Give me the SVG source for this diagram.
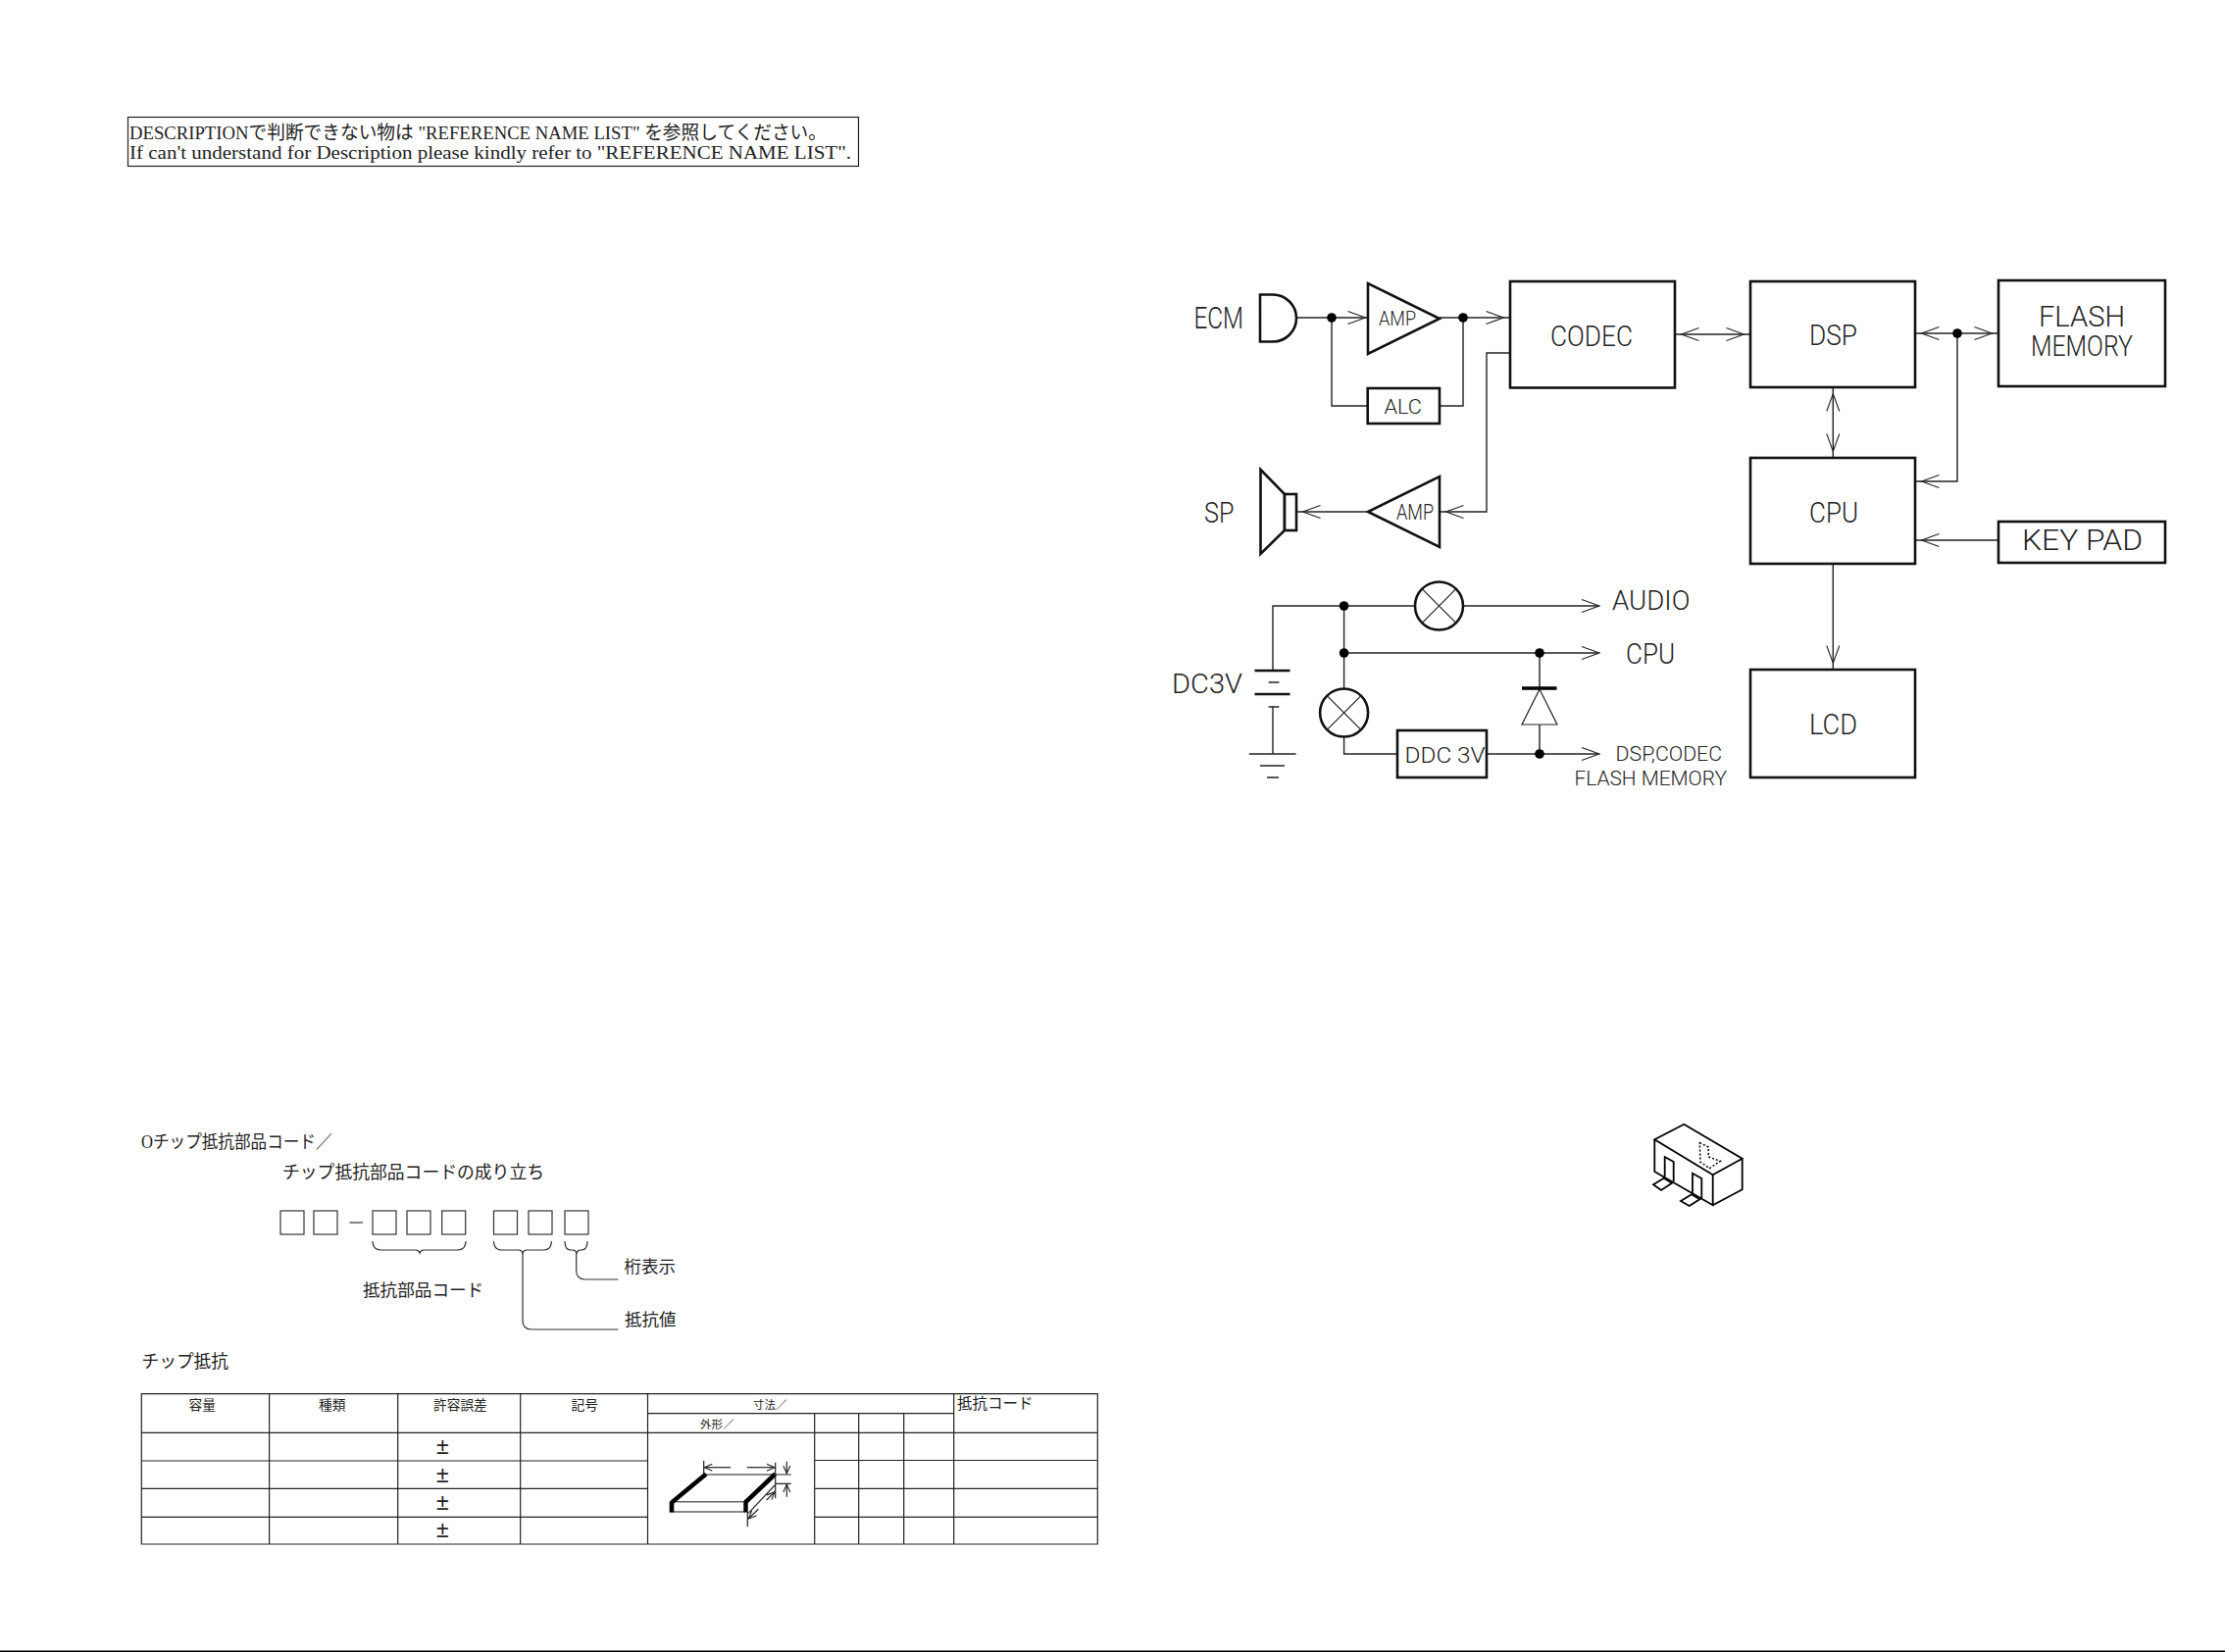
<svg xmlns="http://www.w3.org/2000/svg" width="2269" height="1685" viewBox="0 0 2269 1685">
<defs>
<style>
text{fill:#222}
.c{font-family:Roboto,"Liberation Sans",sans-serif;font-weight:300;fill:#222}
.s{font-family:"Liberation Serif","Noto Sans CJK JP",serif;fill:#222}
.j{font-family:"Liberation Serif","Noto Sans CJK JP",serif;fill:#222}
.b{fill:#fff;stroke:#111;stroke-width:2.6}
.n{fill:none;stroke:#222;stroke-width:1.4}
.h{fill:none;stroke:#111;stroke-width:2.6}
.t{fill:none;stroke:#222;stroke-width:1.2}
.d{fill:#000}
.m{fill:none;stroke:#222;stroke-width:1.1}
</style>
<marker id="a0" viewBox="0 -8 30 16" refX="18" refY="0" markerWidth="30" markerHeight="16" markerUnits="userSpaceOnUse" orient="auto-start-reverse" overflow="visible"><path class="m" d="M0 -6.5L18 0L0 6.5"/></marker>
<marker id="a2" viewBox="0 -8 30 16" refX="20" refY="0" markerWidth="30" markerHeight="16" markerUnits="userSpaceOnUse" orient="auto-start-reverse" overflow="visible"><path class="m" d="M0 -6.5L18 0L0 6.5"/></marker>
<marker id="a6" viewBox="0 -8 30 16" refX="24.500" refY="0" markerWidth="30" markerHeight="16" markerUnits="userSpaceOnUse" orient="auto-start-reverse" overflow="visible"><path class="m" d="M0 -6.5L18 0L0 6.5"/></marker>
<marker id="s0" viewBox="0 -5 12 10" refX="8" refY="0" markerWidth="12" markerHeight="10" markerUnits="userSpaceOnUse" orient="auto-start-reverse" overflow="visible"><path class="m" d="M0 -3.500L8 0L0 3.500"/></marker>
</defs>
<rect width="2269" height="1685" fill="#fff"/>

<g id="connectors">
<path class="n" d="M1322 324H1358" />
<path class="n" d="M1358 324H1394.500" marker-end="url(#a2)"/>
<path class="n" d="M1468 324H1540" marker-end="url(#a6)"/>
<path class="n" d="M1358 324V414H1395"/>
<path class="n" d="M1468 414H1492V324"/>
<path class="n" d="M1540 360H1516V522H1468" marker-end="url(#a6)"/>
<path class="n" d="M1394 522H1322" marker-end="url(#a6)"/>
<path class="n" d="M1708 341H1785" marker-start="url(#a6)" marker-end="url(#a6)"/>
<path class="n" d="M1953 340H2038" marker-start="url(#a6)" marker-end="url(#a6)"/>
<path class="n" d="M1996 340V491H1953" marker-end="url(#a6)"/>
<path class="n" d="M2038 551H1953" marker-end="url(#a6)"/>
<path class="n" d="M1869.300 395V467" marker-start="url(#a6)" marker-end="url(#a6)"/>
<path class="n" d="M1869.300 575V683" marker-end="url(#a6)"/>
<path class="n" d="M1298 684V618H1443"/>
<path class="n" d="M1492 618H1631" marker-end="url(#a0)"/>
<path class="n" d="M1370.600 618V702"/>
<path class="n" d="M1370.600 666H1631" marker-end="url(#a0)"/>
<path class="n" d="M1370.600 752V769H1425"/>
<path class="n" d="M1516 769H1631" marker-end="url(#a0)"/>
<path class="n" d="M1570 666V702M1570 739V769"/>
<path class="n" d="M1298 721V769"/>
<circle class="d" cx="1358" cy="324" r="4.800"/>
<circle class="d" cx="1492" cy="324" r="4.800"/>
<circle class="d" cx="1996" cy="340" r="4.800"/>
<circle class="d" cx="1370.600" cy="618" r="4.800"/>
<circle class="d" cx="1370.600" cy="666" r="4.800"/>
<circle class="d" cx="1570" cy="666" r="4.800"/>
<circle class="d" cx="1570" cy="769" r="4.800"/>
</g>

<g id="note">
<rect x="130.500" y="119.500" width="745" height="50" fill="none" stroke="#222" stroke-width="1.2"/>
<text class="s" x="132" y="142" font-size="19.500" textLength="711" lengthAdjust="spacingAndGlyphs">DESCRIPTIONで判断できない物は "REFERENCE NAME LIST" を参照してください。</text>
<text class="s" x="132" y="162" font-size="19.500" textLength="736" lengthAdjust="spacingAndGlyphs">If can't understand for Description please kindly refer to "REFERENCE NAME LIST".</text>
</g>

<g id="ecm">
<text class="c" x="1217.500" y="335" font-size="31" textLength="50.500" lengthAdjust="spacingAndGlyphs">ECM</text>
<path class="h" d="M1285 300.500H1298A24 24 0 0 1 1298 348.500H1285Z"/>
</g>
<g id="amp1">
<path class="b" d="M1395 289V361L1468 325Z"/>
<text class="c" x="1406" y="332" font-size="21" textLength="38" lengthAdjust="spacingAndGlyphs">AMP</text>
</g>
<g id="alc">
<rect class="b" x="1394.700" y="396" width="73.300" height="36"/>
<text class="c" x="1411.500" y="422" font-size="21" textLength="38.500" lengthAdjust="spacingAndGlyphs">ALC</text>
</g>
<g id="codec">
<rect class="b" x="1540" y="287" width="168" height="108.500"/>
<text class="c" x="1581" y="353" font-size="29.500" textLength="84" lengthAdjust="spacingAndGlyphs">CODEC</text>
</g>
<g id="dsp">
<rect class="b" x="1785" y="287" width="168" height="108"/>
<text class="c" x="1845" y="352" font-size="29.500" textLength="49" lengthAdjust="spacingAndGlyphs">DSP</text>
</g>
<g id="flash">
<rect class="b" x="2038" y="286" width="170" height="108"/>
<text class="c" x="2079" y="333" font-size="29.500" textLength="88" lengthAdjust="spacingAndGlyphs">FLASH</text>
<text class="c" x="2071" y="363" font-size="29.500" textLength="104" lengthAdjust="spacingAndGlyphs">MEMORY</text>
</g>
<g id="cpu">
<rect class="b" x="1785" y="467" width="168" height="108"/>
<text class="c" x="1845" y="533" font-size="29.500" textLength="50" lengthAdjust="spacingAndGlyphs">CPU</text>
</g>
<g id="keypad">
<rect class="b" x="2038" y="532" width="170" height="42"/>
<text class="c" x="2062" y="561" font-size="29" textLength="123" lengthAdjust="spacingAndGlyphs">KEY PAD</text>
</g>
<g id="lcd">
<rect class="b" x="1785" y="683" width="168" height="110"/>
<text class="c" x="1845" y="749" font-size="29.500" textLength="49" lengthAdjust="spacingAndGlyphs">LCD</text>
</g>
<g id="amp2">
<path class="b" d="M1468 486V558L1395 522Z"/>
<text class="c" x="1424" y="530" font-size="22" textLength="38" lengthAdjust="spacingAndGlyphs">AMP</text>
</g>
<g id="sp">
<path class="h" d="M1285.500 479L1310 504V541L1285.500 565Z"/>
<rect class="b" x="1310" y="504" width="12" height="37"/>
<text class="c" x="1228" y="533" font-size="29.500" textLength="30.400" lengthAdjust="spacingAndGlyphs">SP</text>
</g>

<g id="switch1">
<circle class="h" cx="1467.500" cy="618" r="24.500"/>
<path class="t" d="M1450.200 600.700L1484.800 635.300M1484.800 600.700L1450.200 635.300"/>
</g>
<g id="switch2">
<circle class="h" cx="1370.600" cy="727" r="24.500"/>
<path class="t" d="M1353.300 709.700L1387.900 744.300M1387.900 709.700L1353.300 744.300"/>
</g>
<g id="ddc">
<rect class="b" x="1425" y="745" width="91" height="48"/>
<text class="c" x="1432.600" y="778" font-size="22.500" textLength="82" lengthAdjust="spacingAndGlyphs">DDC 3V</text>
</g>
<g id="diode">
<path class="t" d="M1570 703L1552 739H1588Z"/>
<path d="M1552 702H1587.500" fill="none" stroke="#000" stroke-width="3.500"/>
</g>
<g id="battery">
<path class="h" d="M1279.500 684H1315.500M1279.500 708H1315.500"/>
<path class="n" d="M1293.600 696H1304.400M1293.600 721H1304.400M1273.800 769H1321.600M1285 781H1310M1292 793H1304"/>
<text class="c" x="1195" y="707" font-size="28" textLength="72" lengthAdjust="spacingAndGlyphs">DC3V</text>
</g>
<g id="outputs">
<text class="c" x="1644" y="622" font-size="28" textLength="79.400" lengthAdjust="spacingAndGlyphs">AUDIO</text>
<text class="c" x="1658" y="677" font-size="29" textLength="50" lengthAdjust="spacingAndGlyphs">CPU</text>
<text class="c" x="1647.600" y="776" font-size="21" textLength="108.400" lengthAdjust="spacingAndGlyphs">DSP,CODEC</text>
<text class="c" x="1605.500" y="801" font-size="21" textLength="155.500" lengthAdjust="spacingAndGlyphs">FLASH MEMORY</text>
</g>

<g id="part">
<path d="M1687.300 1162.300L1717.300 1146.700L1776.700 1181.700L1746.700 1198.300ZM1687.300 1162.300V1195L1746.700 1229.300V1198.300M1776.700 1181.700V1213.300L1746.700 1229.300" fill="#fff" stroke="#000" stroke-width="1.800"/>
<path d="M1697.700 1200V1180L1706.700 1185V1205M1686 1208.300L1696.700 1201.700L1705 1206.700L1694 1214ZM1726 1217.300V1196.700L1735.300 1202V1222M1714 1225L1725 1218.300L1733.300 1223.300L1722.700 1230Z" fill="none" stroke="#000" stroke-width="1.800"/>
<path d="M1733.300 1165.700L1742.300 1170V1180L1754.300 1184.300L1743.300 1191.700L1734 1185Z" fill="none" stroke="#000" stroke-width="1.500" stroke-dasharray="2 2"/>
</g>

<g id="chipcode">
<text class="j" x="144" y="1171" font-size="18" textLength="194.500" lengthAdjust="spacingAndGlyphs">Oチップ抵抗部品コード／</text>
<text class="j" x="288" y="1202" font-size="18" textLength="267" lengthAdjust="spacingAndGlyphs">チップ抵抗部品コードの成り立ち</text>
<g fill="none" stroke="#333" stroke-width="1.200">
<rect x="286" y="1235" width="24" height="24"/>
<rect x="320" y="1235" width="24" height="24"/>
<path d="M356.500 1247H370"/>
<rect x="380" y="1235" width="24" height="24"/>
<rect x="415" y="1235" width="24" height="24"/>
<rect x="450.700" y="1235" width="24" height="24"/>
<rect x="503.500" y="1235" width="24" height="24"/>
<rect x="539" y="1235" width="24" height="24"/>
<rect x="576" y="1235" width="24" height="24"/>
<path d="M380 1266Q380 1275 389 1275H424Q427 1275 428 1278Q429 1275 432 1275H466Q475 1275 475 1266"/>
<path d="M503.500 1266Q503.500 1275 512 1275H529Q532 1275 533 1278Q534 1275 537 1275H554Q562.400 1275 562.400 1266"/>
<path d="M576 1266Q576 1275 582 1275H584Q587 1275 588 1278Q589 1275 592 1275H593Q599 1275 599 1266"/>
<path d="M587.700 1278V1296Q587.700 1305 597 1305H630.500"/>
<path d="M533 1278V1347Q533 1356 542 1356H630.500"/>
</g>
<text class="j" x="636.500" y="1297.500" font-size="17.500">桁表示</text>
<text class="j" x="637" y="1351.500" font-size="17.500">抵抗値</text>
<text class="j" x="370" y="1322" font-size="17.600">抵抗部品コード</text>
<text class="j" x="144.500" y="1395" font-size="17.700">チップ抵抗</text>
</g>

<g id="table">
<path class="t" d="M144.300 1421.700H1119.300V1575H144.300ZM144.300 1461.300H1119.300M144.300 1490H660.500M144.300 1518.300H660.500M144.300 1547.300H660.500M830.700 1489.500H1119.300M830.700 1518.300H1119.300M830.700 1547.300H1119.300M660.500 1441.700H972.700M274.600 1421.700V1575M405.700 1421.700V1575M530.700 1421.700V1575M660.500 1421.700V1575M972.700 1421.700V1575M830.700 1441.700V1575M875.700 1441.700V1575M921.700 1441.700V1575"/>
<text class="j" x="192.500" y="1437.500" font-size="13.700">容量</text>
<text class="j" x="325" y="1437.500" font-size="13.700">種類</text>
<text class="j" x="442" y="1437.500" font-size="13.700">許容誤差</text>
<text class="j" x="582.500" y="1437.500" font-size="13.700">記号</text>
<text class="j" x="768" y="1437" font-size="11.500">寸法／</text>
<text class="j" x="714" y="1457" font-size="11.500">外形／</text>
<text class="j" x="976" y="1437" font-size="15.500">抵抗コード</text>
<g font-family="Liberation Sans,sans-serif" font-size="23" text-anchor="middle">
<text x="451.400" y="1483">±</text>
<text x="451.400" y="1512">±</text>
<text x="451.400" y="1539.500">±</text>
<text x="451.400" y="1567.500">±</text>
</g>
<g id="chip">
<path d="M719.300 1504H790M683.300 1531.700H760M683.300 1542H760" fill="none" stroke="#666" stroke-width="1.600"/>
<path d="M685 1532.500L720 1503.500M760 1532.500L790.500 1503.500" fill="none" stroke="#000" stroke-width="4.500"/>
<path d="M682.700 1531.500H687.300V1542.500H682.700ZM758.300 1531.500H762.700V1542.500H758.300Z" fill="#000"/>
<path class="t" d="M717.700 1490V1504M790.700 1491.700V1528.300M790.700 1504H806.700M790.700 1513.300H806.700M763.300 1543.300L790 1515M762.300 1541.700V1557.300"/>
<path class="t" d="M745 1496.700H718.300" marker-end="url(#s0)"/>
<path class="t" d="M761.700 1496.700H790" marker-end="url(#s0)"/>
<path class="t" d="M802.300 1490.700V1503" marker-end="url(#s0)"/>
<path class="t" d="M802.300 1526.700V1514" marker-end="url(#s0)"/>
<path class="t" d="M781.700 1530L790 1521.700" marker-end="url(#s0)"/>
<path class="t" d="M773.300 1539.300L763.300 1549" marker-end="url(#s0)"/>
</g>
</g>

<rect id="edge" x="0" y="1683.500" width="2269" height="1.500" fill="#000"/>
</svg>
